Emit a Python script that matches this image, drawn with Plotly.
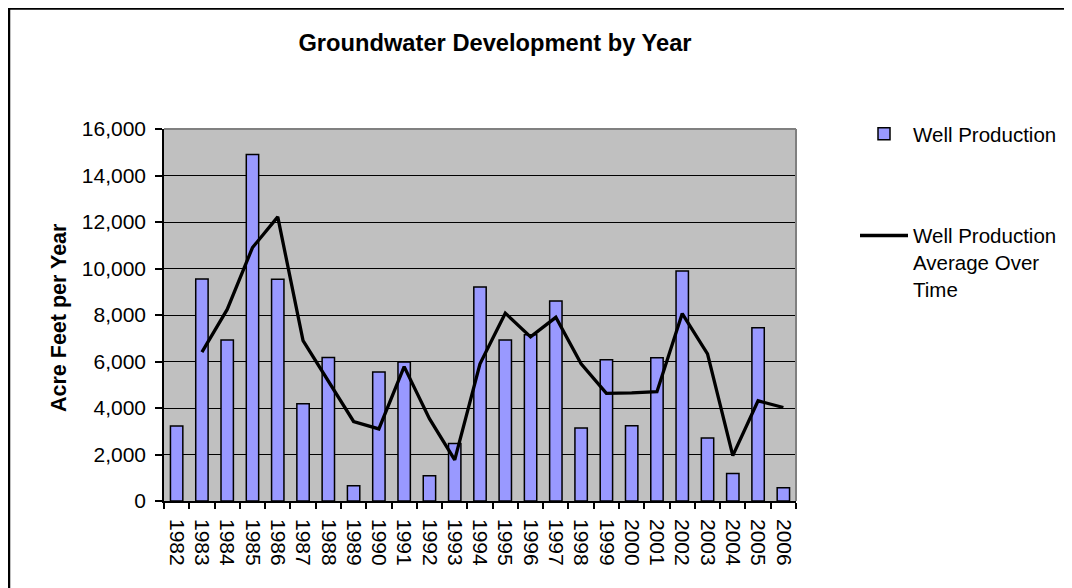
import plotly.graph_objects as go

years = [str(y) for y in range(1982, 2007)]
well_production = [3230, 9550, 6930, 14900, 9540, 4180, 6170, 660, 5550, 5980,
                   1090, 2470, 9200, 6930, 7150, 8600, 3140, 6070, 3240, 6160,
                   9890, 2710, 1180, 7450, 570]
average_over_time = [None, 6400, 8240, 10900, 12220, 6900, 5170, 3420, 3100, 5780,
                     3540, 1770, 5900, 8080, 7060, 7900, 5900, 4630, 4650, 4700,
                     8060, 6330, 1950, 4310, 4020]
y_ticks = [0, 2000, 4000, 6000, 8000, 10000, 12000, 14000, 16000]

FONT = "Arial, 'Liberation Sans', sans-serif"

OFF = 8  # page offset of the figure (body margin)
W, H = 1062, 580
# plot area in page pixels
PL, PR, PT, PB = 164, 796, 129, 501
L, T = PL - OFF, PT - OFF
R, B = W - (PR - OFF), H - (PB - OFF)
pw, ph = PR - PL, PB - PT


def px_x(x):
    return (x - PL) / pw


def px_y(y):
    return (PB - y) / ph


fig = go.Figure()
fig.add_trace(go.Bar(
    x=years, y=well_production, name="Well Production",
    marker=dict(color="#9999FF", line=dict(color="black", width=1.5)),
    legendgroup="a",
))
fig.add_trace(go.Scatter(
    x=years, y=average_over_time, name="Well Production<br>Average Over<br>Time",
    mode="lines", line=dict(color="black", width=3.3), legendgroup="b",
))

fig.update_layout(
    width=W, height=H,
    margin=dict(l=L, r=R, t=T, b=B, pad=0, autoexpand=False),
    paper_bgcolor="white", plot_bgcolor="#C0C0C0",
    font=dict(family=FONT, size=21, color="black"),
    bargap=0.51,
    showlegend=True,
    legend=dict(
        x=px_x(855), y=px_y(114), xanchor="left", yanchor="top",
        font=dict(size=20.5, family=FONT), tracegroupgap=72, itemwidth=48,
        valign="top", bgcolor="rgba(0,0,0,0)",
    ),
    title=dict(
        text="<b>Groundwater Development by Year</b>",
        font=dict(size=23.7, family=FONT), x=px_x(495), xref="paper",
        xanchor="center", y=1 - (43 - OFF) / H, yanchor="middle",
    ),
)
fig.update_xaxes(
    type="category", tickangle=90, showgrid=False, showline=True,
    tickmode="array", tickvals=years, ticktext=years,
    linecolor="black", linewidth=1.5, ticks="outside", tickson="boundaries",
    ticklen=6, tickcolor="black", tickwidth=1.5, tickfont=dict(size=21),
    ticklabelstandoff=12,
)
fig.update_yaxes(
    range=[0, 16000], tickvals=y_ticks, tickformat=",", showgrid=True,
    gridcolor="black", gridwidth=1, showline=True, linecolor="black",
    linewidth=1.5, ticks="outside", ticklen=7, tickcolor="black", tickwidth=1.5,
    tickfont=dict(size=21), zeroline=False, ticklabelstandoff=5,
)
# y axis title
fig.add_annotation(
    text="<b>Acre Feet per Year</b>", textangle=-90, xref="paper", yref="paper",
    x=px_x(59), y=px_y(318), showarrow=False, font=dict(size=21.5, family=FONT),
    xanchor="center", yanchor="middle",
)
# plot area top/right border
fig.add_shape(type="line", xref="paper", yref="paper", x0=0, x1=1, y0=1, y1=1,
              line=dict(color="#808080", width=2))
fig.add_shape(type="line", xref="paper", yref="paper", x0=1, x1=1, y0=0, y1=1,
              line=dict(color="#808080", width=2))
# outer chart frame
fig.add_shape(type="rect", xref="paper", yref="paper",
              x0=px_x(9), x1=px_x(1067.5), y0=px_y(700), y1=px_y(8.5),
              line=dict(color="black", width=2.5), layer="below")

fig.write_html("out.html")
